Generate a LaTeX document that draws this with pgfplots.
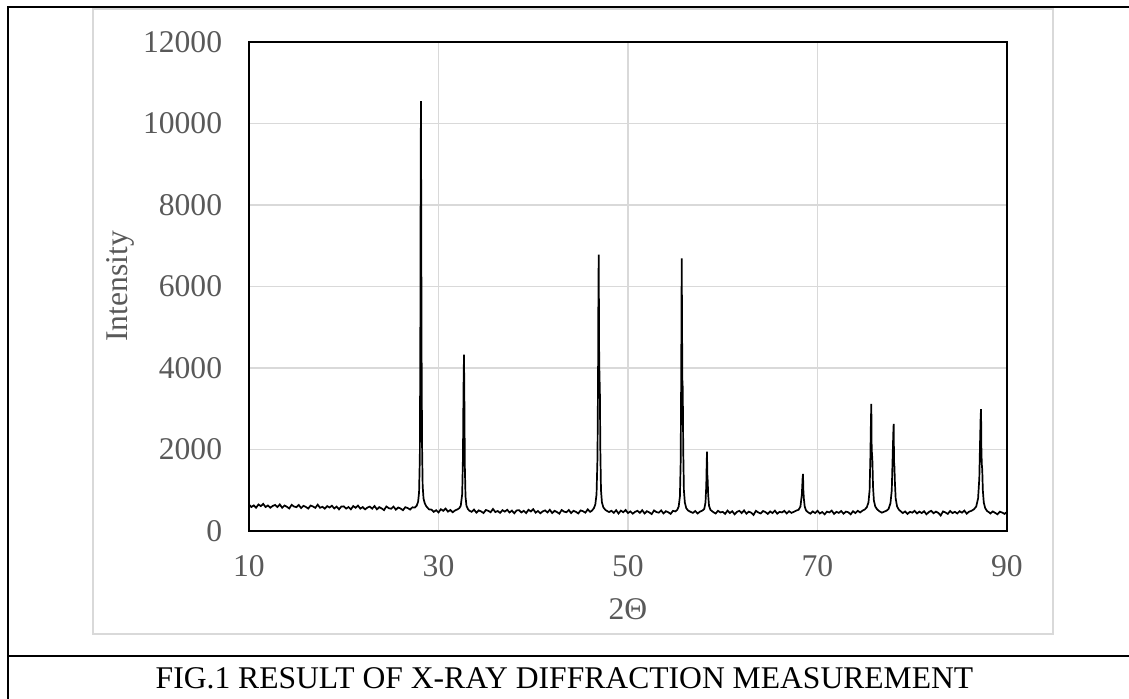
\documentclass[border=0pt]{standalone}
\usepackage{pgfplots}
\pgfplotsset{compat=1.18}
\usepackage{fontspec}
\setmainfont{Liberation Serif}
\definecolor{gridc}{HTML}{D9D9D9}
\definecolor{labc}{HTML}{595959}
\begin{document}
\fontsize{15.8}{19}\selectfont
\begin{tikzpicture}
\useasboundingbox (0pt,0pt) rectangle (564.5pt,349.5pt);
\draw[gridc, line width=0.8pt] (46.5pt,32.5pt) rectangle (526.5pt,345pt);
\draw[black, line width=1.1pt] (4pt,0pt) -- (4pt,346pt) -- (564.5pt,346pt);
\draw[black, line width=1.1pt] (4pt,21.5pt) -- (564.5pt,21.5pt);
\node[text=black] at (282.25pt,10.5pt) {FIG.1 RESULT OF X-RAY DIFFRACTION MEASUREMENT};
\begin{axis}[
  at={(124.5pt,84pt)}, anchor=south west,
  scale only axis, width=379pt, height=244.5pt,
  xmin=10, xmax=90, ymin=0, ymax=12000,
  xtick={10,30,50,70,90}, ytick={0,2000,4000,6000,8000,10000,12000},
  scaled ticks=false,
  grid=major, major grid style={gridc, line width=0.75pt},
  axis line style={black, line width=0.8pt},
  major tick length=0pt,
  tick label style={text=labc},
  /pgf/number format/1000 sep={}, /pgf/number format/assume math mode=true,
  yticklabel style={xshift=-8pt}, xticklabel style={yshift=-7pt},
  xlabel={2Θ}, ylabel={Intensity},
  xlabel style={at={(axis description cs:0.5,-0.1595)}, anchor=center, text=labc},
  ylabel style={at={(axis description cs:-0.170,0.5)}, anchor=center, text=labc},
]
\addplot[black, line width=0.85pt, no marks, line join=miter, miter limit=2] table {
x y
10.00 645
10.25 589
10.50 628
10.75 572
11.00 651
11.25 610
11.50 664
11.75 588
12.00 627
12.25 571
12.50 615
12.75 639
13.00 588
13.25 652
13.50 571
13.75 625
14.00 594
14.25 553
14.50 642
14.75 601
15.00 585
15.25 639
15.50 563
15.75 617
16.00 591
16.25 550
16.50 624
16.75 603
17.00 567
17.25 646
17.50 570
17.75 594
18.00 548
18.25 612
18.50 576
18.75 620
19.00 554
19.25 598
19.50 532
19.75 601
20.00 605
20.25 549
20.50 588
20.75 532
21.00 611
21.25 570
21.50 624
21.75 548
22.00 587
22.25 531
22.50 575
22.75 599
23.00 548
23.25 612
23.50 531
23.75 585
24.00 554
24.25 513
24.50 602
24.75 561
25.00 545
25.25 599
25.50 523
25.75 577
26.00 551
26.25 510
26.50 584
26.75 563
27.00 527
27.25 581
27.50 575
27.70 620
27.85 720
27.95 950
28.03 1800
28.08 4500
28.12 9000
28.15 10550
28.18 7500
28.22 4200
28.27 2000
28.33 1100
28.42 800
28.55 680
28.70 610
28.85 570
29.00 530
29.25 525
29.50 470
29.75 510
30.00 455
30.25 535
30.50 495
30.75 550
31.00 475
31.25 515
31.50 460
31.75 505
32.00 530
32.20 560
32.35 620
32.50 900
32.58 1800
32.64 3500
32.69 4330
32.73 3300
32.78 1600
32.85 850
32.95 620
33.10 540
33.25 500
33.50 470
33.75 525
34.00 450
34.25 505
34.50 480
34.75 440
35.00 515
35.25 495
35.50 460
35.75 540
36.00 465
36.25 490
36.50 445
36.75 510
37.00 475
37.25 520
37.50 455
37.75 500
38.00 435
38.25 505
38.50 510
38.75 455
39.00 495
39.25 440
39.50 520
39.75 480
40.00 535
40.25 450
40.50 490
40.75 435
41.00 480
41.25 505
41.50 455
41.75 520
42.00 440
42.25 495
42.50 465
42.75 425
43.00 515
43.25 475
43.50 460
43.75 515
44.00 440
44.25 495
44.50 470
44.75 430
45.00 505
45.25 485
45.50 450
45.75 530
46.00 470
46.20 500
46.40 560
46.55 650
46.68 900
46.78 1800
46.84 3800
46.88 6000
46.91 6780
46.95 4500
46.99 3780
47.03 3500
47.08 2000
47.15 1000
47.25 700
47.40 580
47.60 520
47.80 490
48.00 465
48.25 495
48.50 445
48.75 510
49.00 430
49.25 500
49.50 460
49.75 515
50.00 440
50.25 480
50.50 425
50.75 470
51.00 495
51.25 445
51.50 510
51.75 430
52.00 485
52.25 455
52.50 415
52.75 505
53.00 465
53.25 450
53.50 505
53.75 430
54.00 485
54.25 460
54.50 420
54.75 495
55.00 480
55.20 520
55.35 600
55.48 850
55.56 1700
55.62 4000
55.67 6690
55.71 4800
55.74 3700
55.78 3500
55.83 2000
55.90 1000
56.00 700
56.15 560
56.35 500
56.60 470
56.85 445
57.10 490
57.35 430
57.60 475
57.85 500
58.05 540
58.18 700
58.26 1100
58.31 1700
58.34 1950
58.37 1400
58.41 1250
58.46 900
58.55 620
58.70 520
58.90 480
59.10 450
59.25 430
59.50 495
59.75 455
60.00 470
60.25 420
60.50 500
60.75 440
61.00 485
61.25 410
61.50 470
61.75 495
62.00 440
62.25 505
62.50 425
62.75 475
63.00 450
63.25 395
63.50 495
63.75 455
64.00 430
64.25 490
64.50 465
64.75 420
65.00 480
65.25 440
65.50 500
65.75 425
66.00 470
66.25 455
66.50 495
66.75 430
67.00 485
67.25 445
67.50 470
67.75 500
68.00 520
68.20 600
68.35 900
68.43 1300
68.47 1400
68.51 1000
68.56 800
68.65 600
68.80 500
69.00 460
69.25 425
69.50 480
69.75 440
70.00 495
70.25 430
70.50 465
70.75 410
71.00 475
71.25 455
71.50 500
71.75 420
72.00 470
72.25 445
72.50 490
72.75 425
73.00 475
73.25 460
73.50 410
73.75 485
74.00 440
74.25 495
74.50 455
74.75 500
75.00 530
75.20 580
75.38 700
75.50 1000
75.58 1800
75.64 2700
75.68 3120
75.72 2000
75.76 1870
75.80 1700
75.86 1100
75.95 750
76.10 600
76.30 530
76.55 480
76.80 450
77.05 475
77.30 500
77.50 540
77.70 680
77.84 1000
77.93 1800
78.00 2400
78.04 2630
78.08 1700
78.12 1580
78.17 1200
78.25 800
78.40 600
78.60 520
78.85 470
79.00 440
79.25 480
79.50 420
79.75 470
80.00 450
80.25 495
80.50 430
80.75 475
81.00 440
81.25 485
81.50 410
81.75 465
82.00 495
82.25 435
82.50 475
82.75 445
83.00 380
83.25 480
83.50 455
83.75 420
84.00 490
84.25 440
84.50 470
84.75 430
85.00 485
85.25 450
85.50 500
85.75 425
86.00 475
86.25 495
86.50 530
86.75 600
86.95 800
87.08 1300
87.16 2200
87.22 2800
87.26 2990
87.30 2000
87.34 1640
87.39 1500
87.45 1000
87.55 700
87.70 560
87.90 490
88.10 460
88.25 430
88.50 480
88.75 445
89.00 410
89.25 475
89.50 450
89.75 420
90.00 470
};
\end{axis}
\end{tikzpicture}
\end{document}
